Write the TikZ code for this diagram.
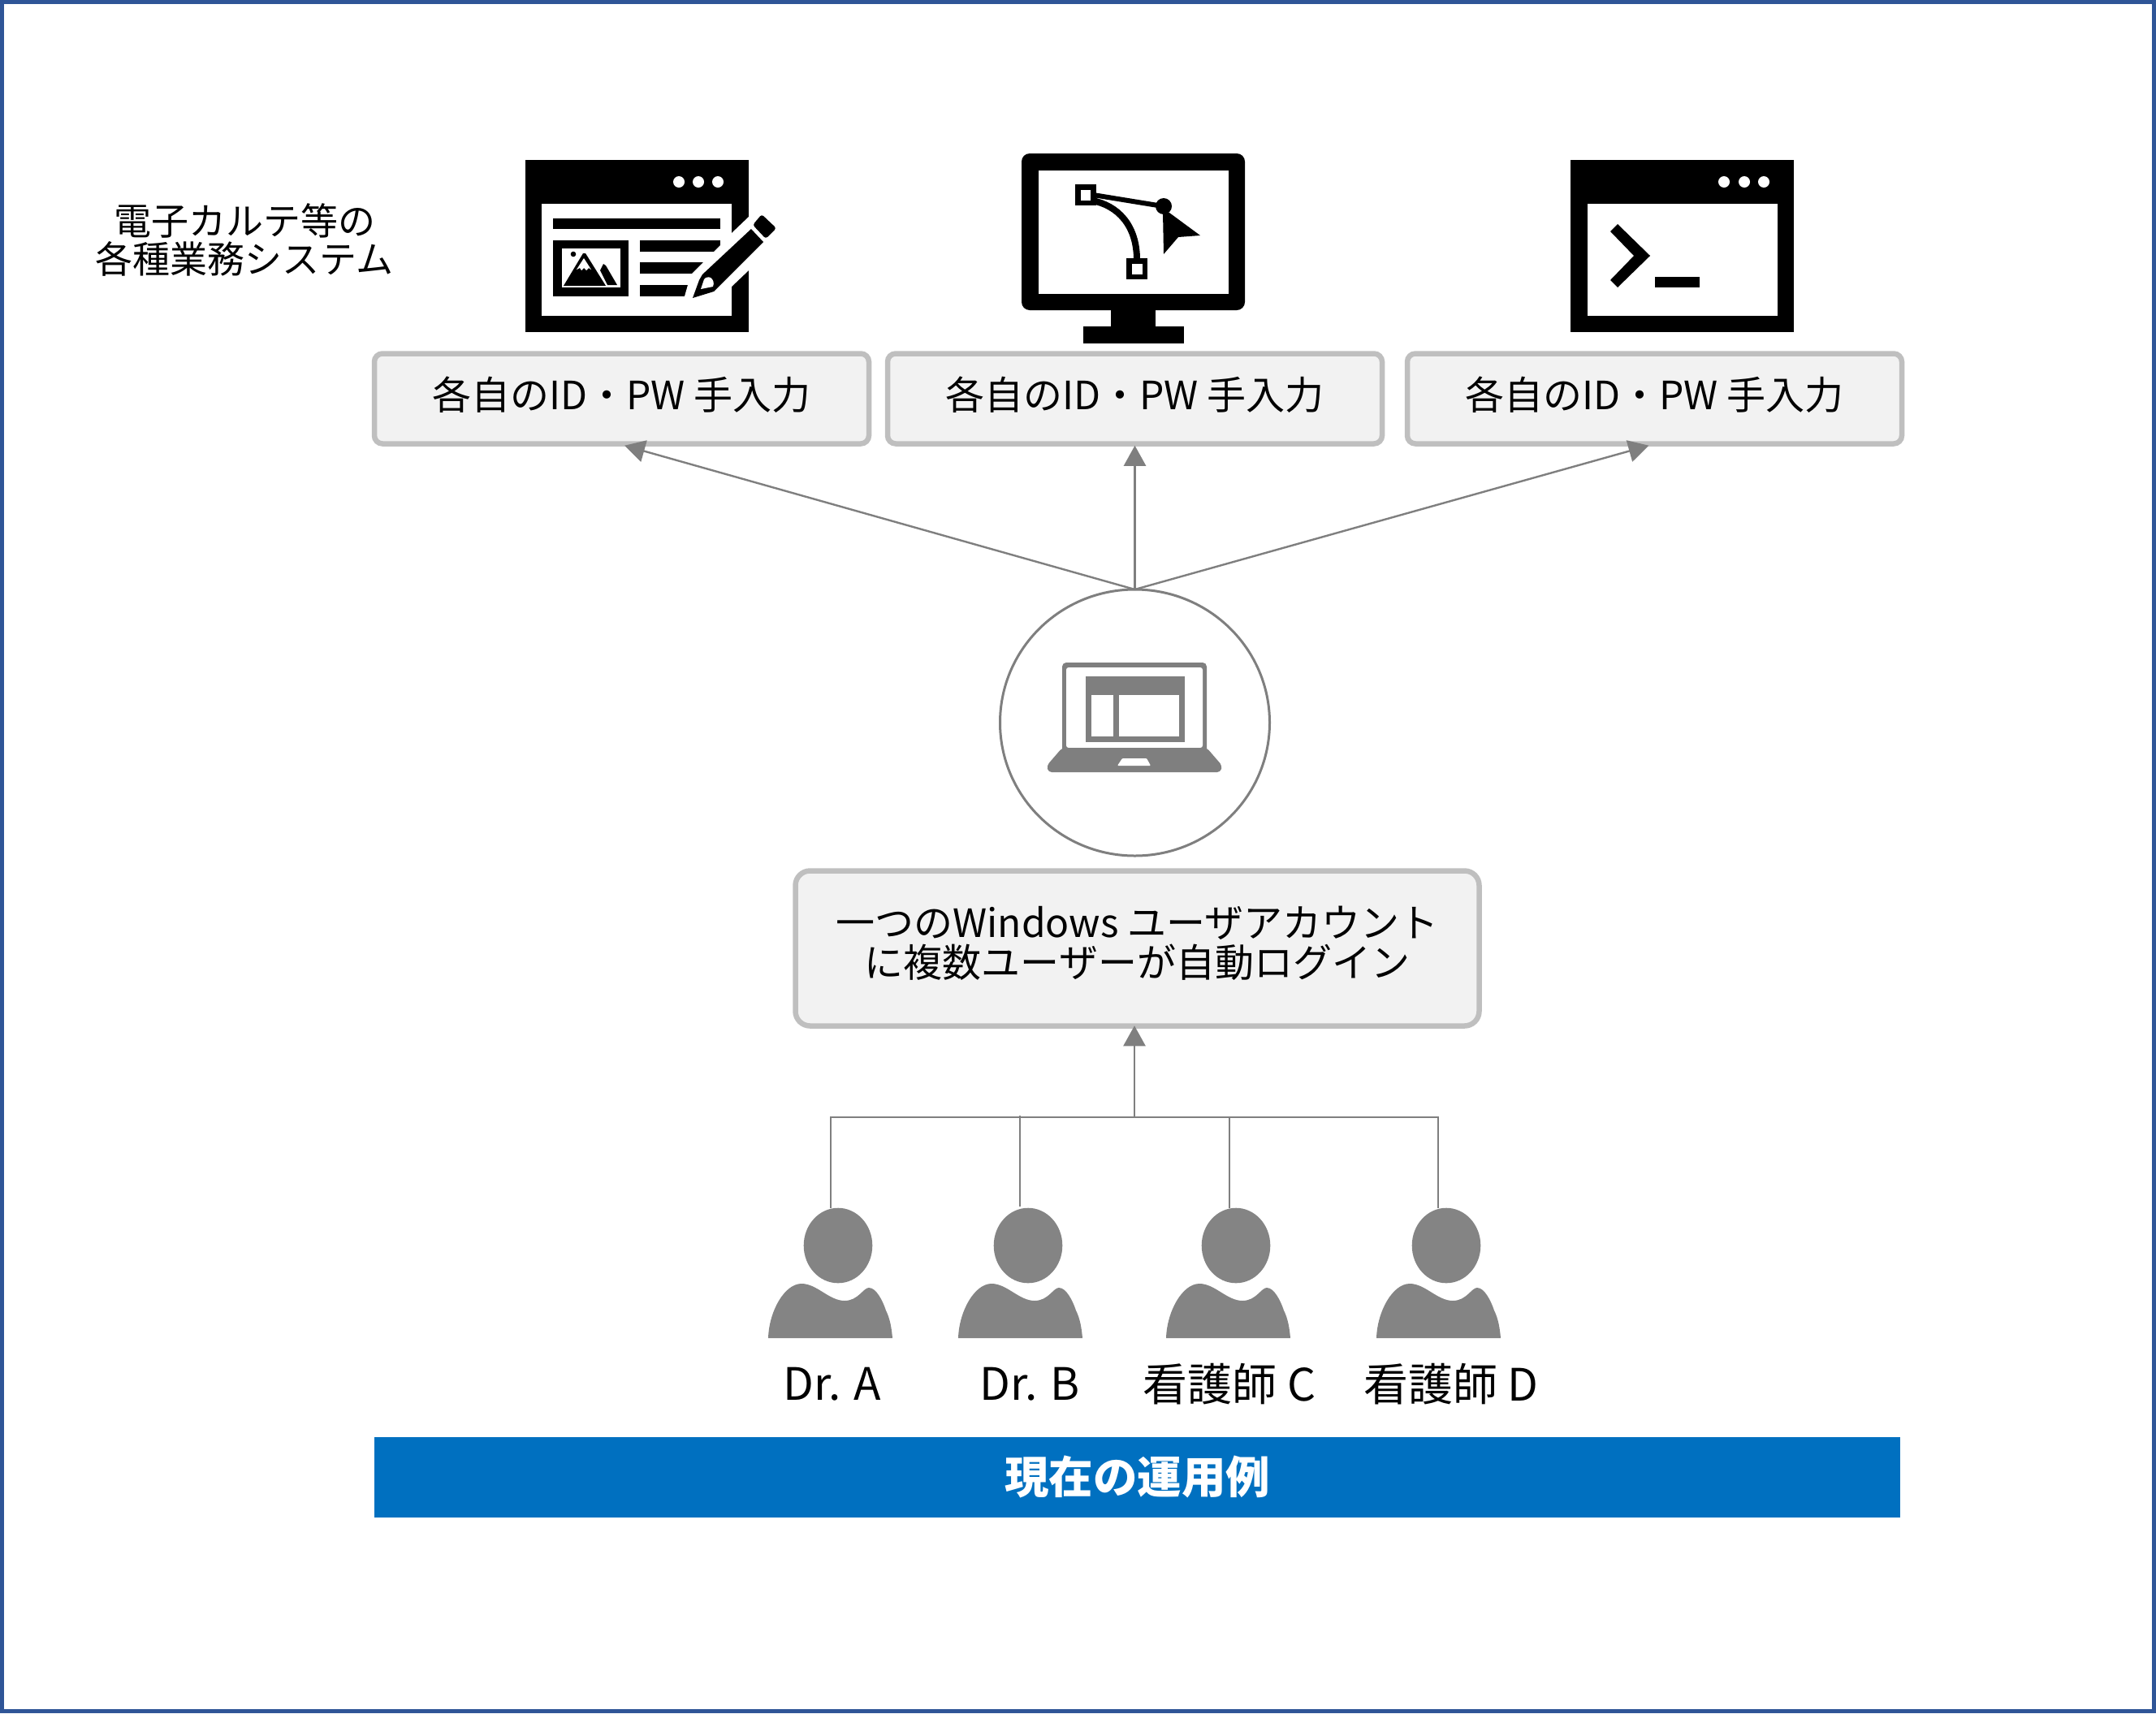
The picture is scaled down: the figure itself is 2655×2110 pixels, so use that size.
\documentclass[tikz,border=0pt]{standalone}
\usepackage{fontspec}
\setmainfont{Noto Sans CJK JP}
\usetikzlibrary{arrows.meta,calc,shapes.geometric}
\definecolor{frameblue}{HTML}{2F5597}
\definecolor{barblue}{HTML}{0070C0}
\definecolor{linegray}{HTML}{7F7F7F}
\definecolor{persongray}{HTML}{848484}
\definecolor{boxedge}{HTML}{BFBFBF}
\definecolor{boxfill}{HTML}{F2F2F2}
\tikzset{
  x=1pt,y=-1pt,
  lbl/.style={inner sep=0pt,font=\fontsize{55}{57}\selectfont,text=black},
  syslbl/.style={inner sep=0pt,font=\fontsize{46}{47}\selectfont,text=black},
  loginbox/.style={draw=boxedge,fill=boxfill,line width=6.5pt,rounded corners=10pt,inner sep=0pt,align=center,
     font=\fontsize{48}{49}\selectfont,text=black},
  link/.style={draw=linegray,line width=2.4pt},
  arrowlink/.style={link,-{Triangle[length=25pt,width=27pt]}},
  ico/.style={fill=black,draw=none},
  lapt/.style={fill=linegray,draw=none},
  person/.pic={
    \fill[persongray] (86,-114) ellipse [x radius=42.3,y radius=46.3];
    \fill[persongray] (0,0) .. controls (1,-33) and (20,-67) .. (41,-67) .. controls (60,-67) and (75,-46) .. (94,-46) .. controls (111,-46) and (117,-62) .. (124,-62) .. controls (133,-62) and (141,-46) .. (145,-34) .. controls (150,-24) and (152,-12) .. (153,0) -- cycle;
  }
}
\begin{document}
\begin{tikzpicture}
\useasboundingbox (0,0) rectangle (2655,2110);
\draw[frameblue,line width=5pt] (2.5,2.5) rectangle (2652.5,2107.5);

% icon 1
\fill[ico] (647,197) rectangle (922,409);
\fill[white] (667,251) rectangle (901,389);
\foreach \cx in {836,860,884} \fill[white] (\cx,224) circle (7);
\fill[ico] (681,269) rectangle (887,282);
\fill[ico] (681,296) rectangle (774,365);
\fill[white] (692,306) rectangle (764,354);
\fill[ico] (706,313) circle (3.3);
\fill[ico] (694,352) -- (718,312) -- (721,312) -- (746,352) -- cycle;
\fill[white] (710,332) -- (714,330) -- (716,333) -- (719,330) -- (722,333) -- (725,330) -- (728,332) -- (719,318) -- cycle;
\fill[ico] (739,333) -- (743,325) -- (746,327) -- (760,351) -- (748,351) -- cycle;
\fill[ico] (788,296) rectangle (887,310);
\fill[ico] (788,323) rectangle (887,337);
\fill[ico] (788,351) rectangle (887,365);
% pencil halo and pencil
\fill[white] (843,365) -- (847,351) -- (852,337) -- (866,323) -- (880,309) -- (887,302) -- (901,287) -- (922,267) -- (922,333) -- (901,353) -- (879,372) -- (860,372) -- cycle;
\fill[ico] (853,367) -- (861,345) -- (865,338) -- (925,282) -- (940,298) -- (879,359) -- cycle;
\fill[white] (863,356) -- (867,344) .. controls (869,341) and (873,341) .. (875,342) .. controls (878,344) and (880,348) .. (878,353) -- cycle;
\fill[ico,rounded corners=3pt] (927,277) -- (938,264) -- (956,281) -- (943,294) -- cycle;

% icon 2 monitor
\fill[ico,rounded corners=10pt] (1258,189) rectangle (1533,382);
\fill[white] (1279,210) rectangle (1513,362);
\fill[ico] (1368,380) rectangle (1423,403);
\fill[ico] (1334,402) rectangle (1458,423);
\draw[line width=6pt] (1340,239) -- (1432,254);
\draw[line width=8pt] (1345,247) .. controls (1376,253) and (1400,277) .. (1400,320);
\fill[ico] (1324,227) rectangle (1350,253);
\fill[white] (1331,234) rectangle (1343,247);
\fill[ico] (1387,318) rectangle (1413,344);
\fill[white] (1394,325) rectangle (1407,338);
\fill[ico] (1433,254) circle (10);
\fill[ico] (1432,262) -- (1440,262) -- (1478,290) -- (1451,292) -- (1433,313) -- cycle;

% icon 3
\fill[ico] (1934,197) rectangle (2209,409);
\fill[white] (1955,251) rectangle (2189,389);
\foreach \cx in {2123,2148,2172} \fill[white] (\cx,224) circle (7);
\fill[ico] (1992,276) -- (2032,315) -- (1992,354) -- (1983,345) -- (2012,315) -- (1983,285) -- cycle;
\fill[ico] (2038,341) rectangle (2093,354);

% text top-left
\node[syslbl,align=center] (sys) at (301,295) {電子カルテ等の\\各種業務システム};

% login boxes
\node[loginbox,minimum width=609pt,minimum height=111pt] (b1) at (765.5,491) {\raisebox{13pt}{各自のID・PW 手入力}};
\node[loginbox,minimum width=609pt,minimum height=111pt] (b2) at (1397.5,491) {\raisebox{13pt}{各自のID・PW 手入力}};
\node[loginbox,minimum width=609pt,minimum height=111pt] (b3) at (2037.5,491) {\raisebox{13pt}{各自のID・PW 手入力}};

% circle
\node[draw=linegray,line width=3pt,fill=white,shape=ellipse,minimum width=332pt,minimum height=328pt,inner sep=0pt,outer sep=0pt] (pc) at (1397.5,890) {};
% laptop
\fill[lapt,rounded corners=5pt] (1308,816) rectangle (1486,935);
\fill[white,rounded corners=3pt] (1313,822) rectangle (1481,921);
\fill[lapt] (1337,833) rectangle (1459,914);
\fill[white] (1344,856) rectangle (1371,907);
\fill[white] (1378,856) rectangle (1452,907);
\fill[lapt,rounded corners=4pt] (1308,921) -- (1486,921) -- (1505,943) -- (1503,951) -- (1291,951) -- (1289,943) -- cycle;
\fill[white,rounded corners=1pt] (1376,943) -- (1382,934) -- (1412,934) -- (1417,943) -- cycle;

\node[loginbox,rounded corners=18pt,minimum width=842pt,minimum height=191pt] (mid) at (1400.5,1168) {一つのWindows ユーザアカウント\\に複数ユーザーが自動ログイン\rule[-16pt]{0pt}{0pt}};

% fan-out
\coordinate (apex) at (pc.north);
\draw[arrowlink] (apex) -- ($(b1.south)+(3.5,-1)$);
\draw[arrowlink] (apex) -- ($(b2.south)+(0,-1)$);
\draw[arrowlink] (apex) -- ($(b3.south)+(-7,-1)$);

% persons
\pic at (946,1648) {person};
\pic at (1180,1648) {person};
\pic at (1436,1648) {person};
\pic at (1695,1648) {person};
\coordinate (pa) at (1023,1488);
\coordinate (pb) at (1256,1486);
\coordinate (pc2) at (1514,1488);
\coordinate (pd) at (1771,1488);
\coordinate (ja) at (1023,1376);
\coordinate (jb) at (1256,1374);
\coordinate (jc) at (1514,1376);
\coordinate (jd) at (1771,1376);
\coordinate (jm) at (1397,1376);
\draw[link] (pa) -- (ja) -- (jd) -- (pd);
\draw[link] (pb) -- (jb);
\draw[link] (pc2) -- (jc);
\draw[arrowlink] (jm) -- ($(mid.south -| jm)+(0,-3.5)$);

\node[lbl] (la) at (1025,1705) {Dr. A};
\node[lbl] (lb) at (1268,1705) {Dr. B};
\node[lbl] (lc) at (1514,1705) {看護師 C};
\node[lbl] (ld) at (1787,1705) {看護師 D};

\node[fill=barblue,minimum width=1879pt,minimum height=99pt,inner sep=0pt,text=white,font=\fontsize{54.5}{56}\selectfont\bfseries] (bar) at (1400.5,1819.5) {\raisebox{6pt}{現在の運用例}};
\end{tikzpicture}
\end{document}
